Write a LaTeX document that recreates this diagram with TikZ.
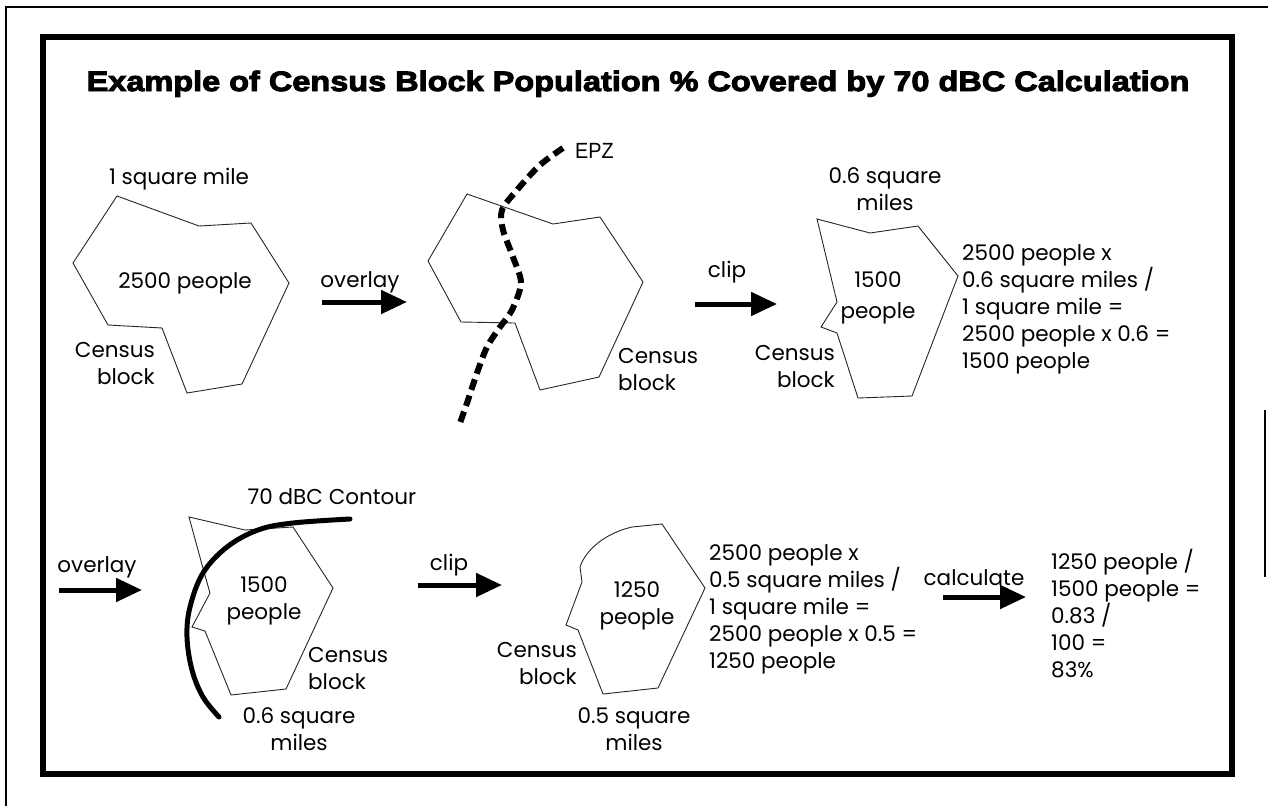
\documentclass[tikz,border=0pt]{standalone}
\usepackage{fontspec}
\setmainfont{Poppins}
\newfontfamily\titlefont[FakeStretch=1.16,FakeBold=3.5]{Liberation Sans Bold}
\newfontfamily\epzfont[FakeStretch=0.9]{Liberation Sans}
\usetikzlibrary{arrows.meta}

\begin{document}
\begin{tikzpicture}[
      x=1pt, y=-1pt,
      frame/.style={line width=6.5pt},
      scan line/.style={line width=1.8pt},
      block/.style={draw=black!85, line width=0.9pt},
      epz/.style={line width=6pt, dash pattern=on 11pt off 6pt},
      contour/.style={line width=5pt, line cap=round},
      move/.style={line width=5pt, -{Triangle[length=26pt,width=23pt]}},
      txt/.style={inner sep=0pt, font=\fontsize{21.5}{27}\selectfont},
      heading/.style={inner sep=0pt, anchor=base,
         font=\titlefont\fontsize{28}{32}\selectfont}
    ]
    \useasboundingbox (0,0) rectangle (1268,806);
    % frames
    \draw[scan line] (6,806) -- (6,7) -- (1268,7);
    \draw[scan line] (1265,410) -- (1265,577);
    \draw[frame] (43,37) rectangle (1232,774);
    \node (title) [heading] at (638,91)
       {Example of Census Block Population \% Covered by 70 dBC Calculation};

    % first row (multi-line labels sit on the baseline of their last line)
    \draw[block] (117,196) -- (199,226) -- (251,223) -- (289,283) -- (242,384)
       -- (187,393) -- (162,328) -- (108,325) -- (73,263) -- cycle;
    \node (sqA) [txt, anchor=base] at (179,184) {1 square mile};
    \node (pplA) [txt, anchor=base] at (185,288) {2500 people};
    \node (cenA) [txt, anchor=base east, align=right] at (155,384) {Census\\block};

    \coordinate (ov1s) at (322,302);
    \coordinate (ov1e) at (407,302);
    \draw[move] (ov1s) -- (ov1e);
    \node (ov1) [txt, anchor=base] at (360,287) {overlay};

    \draw[block] (467,194) -- (553,224) -- (600,217) -- (643,282) -- (599,377)
       -- (540,390) -- (515,323) -- (461,322) -- (428,261) -- cycle;
    \draw[epz] plot[smooth, tension=0.5] coordinates {(563,148) (540,165) (517,190)
       (502,210) (503,230) (513,257) (521,283) (512,310) (500,327) (487,347)
       (477,373) (467,403) (460,423)};
    \node (epz) [inner sep=0pt, anchor=base west,
       font=\epzfont\fontsize{22}{26}\selectfont] at (575,158) {EPZ};
    \node (cenB) [txt, anchor=base west, align=left] at (618,390) {Census\\block};

    \coordinate (cl1s) at (695,304);
    \coordinate (cl1e) at (777,304);
    \draw[move] (cl1s) -- (cl1e);
    \node (cl1) [txt, anchor=base] at (727,277) {clip};

    \draw[block] (817,219) -- (870,233) -- (918,226) -- (958,276) -- (912,396)
       -- (858,398) -- (837,333) -- (821,327) -- (837,302) -- cycle;
    \node (sqC) [txt, anchor=base, align=center] at (885,210) {0.6 square\\miles};
    \node (pplC) [txt, anchor=base, align=center] at (878,318) {1500\\[4pt]people};
    \node (cenC) [txt, anchor=base east, align=right] at (835,387) {Census\\block};
    \node (sumC) [txt, anchor=base west, align=left] at (962,368)
       {2500 people x\\0.6 square miles /\\1 square mile =\\2500 people x 0.6 =\\1500 people};

    % second row
    \coordinate (ov2s) at (59,590);
    \coordinate (ov2e) at (142,590);
    \draw[move] (ov2s) -- (ov2e);
    \node (ov2) [txt, anchor=base] at (97,572) {overlay};

    \draw[block] (189,517) -- (245,530) -- (293,527) -- (333,588) -- (286,689)
       -- (231,695) -- (205,631) -- (192,627) -- (210,593) -- (204,572) -- cycle;
    \draw[contour] plot[smooth, tension=0.6] coordinates {(350,519) (293,523)
       (258,530) (227,547) (203,573) (190,607) (187,637) (192,670) (203,697) (219,717)};
    \node (ctr) [txt, anchor=base] at (332,504) {70 dBC Contour};
    \node (pplD) [txt, anchor=base, align=center] at (264,619) {1500\\people};
    \node (cenD) [txt, anchor=base west, align=left] at (308,689) {Census\\block};
    \node (sqD) [txt, anchor=base, align=center] at (299,750) {0.6 square\\miles};

    \coordinate (cl2s) at (418,585);
    \coordinate (cl2e) at (502,585);
    \draw[move] (cl2s) -- (cl2e);
    \node (cl2) [txt, anchor=base] at (449,570) {clip};

    \draw[block] (632,527) -- (662,524) -- (705,588) -- (658,688) -- (603,694)
       -- (578,630) -- (566,625) -- (582,582) -- (580,567)
       .. controls (586,549) and (606,533) .. cycle;
    \node (pplE) [txt, anchor=base, align=center] at (637,624) {1250\\people};
    \node (cenE) [txt, anchor=base east, align=right] at (577,684) {Census\\block};
    \node (sqE) [txt, anchor=base, align=center] at (634,750) {0.5 square\\miles};
    \node (sumE) [txt, anchor=base west, align=left] at (709,668)
       {2500 people x\\0.5 square miles /\\1 square mile =\\2500 people x 0.5 =\\1250 people};

    \coordinate (calcs) at (943,597);
    \coordinate (calce) at (1026,597);
    \draw[move] (calcs) -- (calce);
    \node (calc) [txt, anchor=base] at (974,585) {calculate};
    \node (res) [txt, anchor=base west, align=left] at (1051,677)
       {1250 people /\\1500 people =\\0.83 /\\100 =\\83\%};
\end{tikzpicture}
\end{document}
